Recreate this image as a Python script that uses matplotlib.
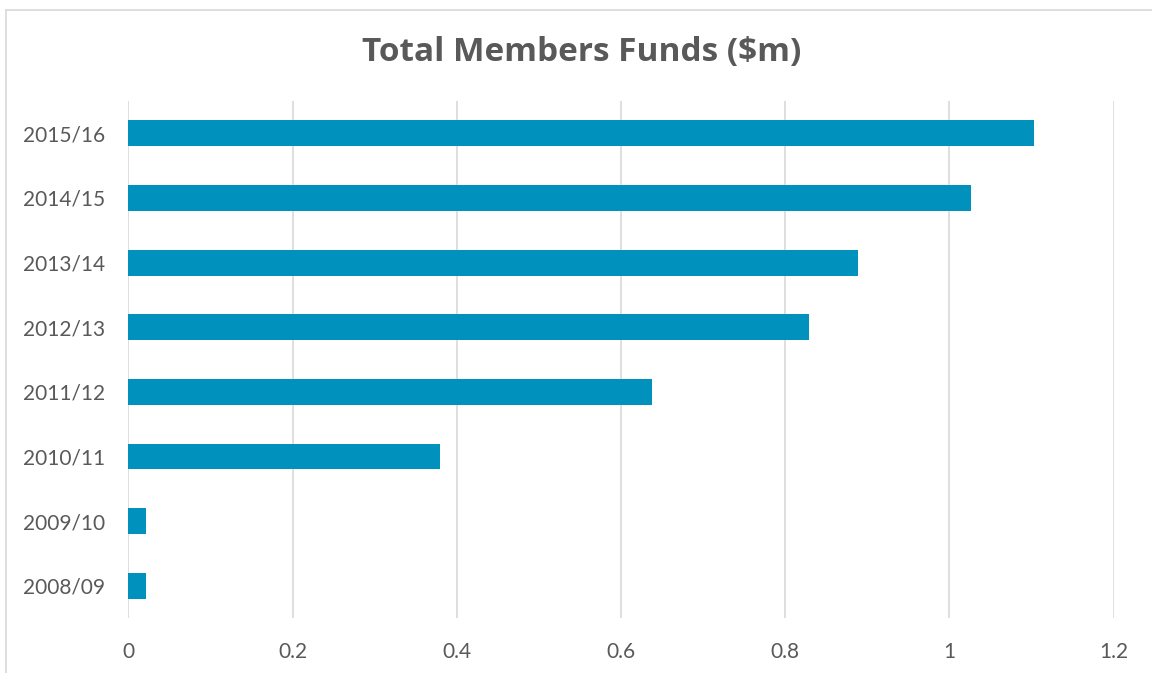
import matplotlib
matplotlib.use("Agg")
import matplotlib.pyplot as plt
from matplotlib.lines import Line2D

# data
years = ["2008/09", "2009/10", "2010/11", "2011/12",
         "2012/13", "2013/14", "2014/15", "2015/16"]
funds = [0.021, 0.022, 0.380, 0.638, 0.829, 0.889, 1.026, 1.103]
x_ticks = [0, 0.2, 0.4, 0.6, 0.8, 1, 1.2]
x_tick_labels = ["0", "0.2", "0.4", "0.6", "0.8", "1", "1.2"]

BAR = "#0091bc"
GRID = "#d9d9d9"
TEXT = "#595959"

fig = plt.figure(figsize=(11.52, 6.73), dpi=100)
ax = fig.add_axes([0.1114, 0.0817, 0.8553, 0.7682])

ax.barh(range(len(years)), funds, height=0.4, color=BAR, zorder=3)

ax.set_xlim(0, 1.2)
ax.set_ylim(-0.5, len(years) - 0.5)
ax.set_xticks(x_ticks)
ax.set_xticklabels(x_tick_labels)
ax.set_yticks(range(len(years)))
ax.set_yticklabels(years)

ax.grid(axis="x", color=GRID, linewidth=1.2, zorder=0)
ax.set_axisbelow(True)
for s in ax.spines.values():
    s.set_visible(False)
ax.tick_params(axis="both", length=0, labelsize=15, labelcolor=TEXT)
ax.tick_params(axis="y", pad=17)
ax.tick_params(axis="x", pad=17)
for lbl in ax.get_xticklabels() + ax.get_yticklabels():
    lbl.set_family("Lato")

fig.text(0.5052, 0.922, "Total Members Funds ($m)", ha="center", va="center",
         fontsize=24, fontweight="bold", color=TEXT, family="Open Sans")

# thin chart-area frame (top and left visible in the reference)
fig.add_artist(Line2D([6 / 1152, 1], [1 - 9.5 / 673] * 2,
                      transform=fig.transFigure, color=GRID, linewidth=1.2))
fig.add_artist(Line2D([6 / 1152] * 2, [0, 1 - 9.5 / 673],
                      transform=fig.transFigure, color=GRID, linewidth=1.2))

fig.savefig("out.png", dpi=100)
